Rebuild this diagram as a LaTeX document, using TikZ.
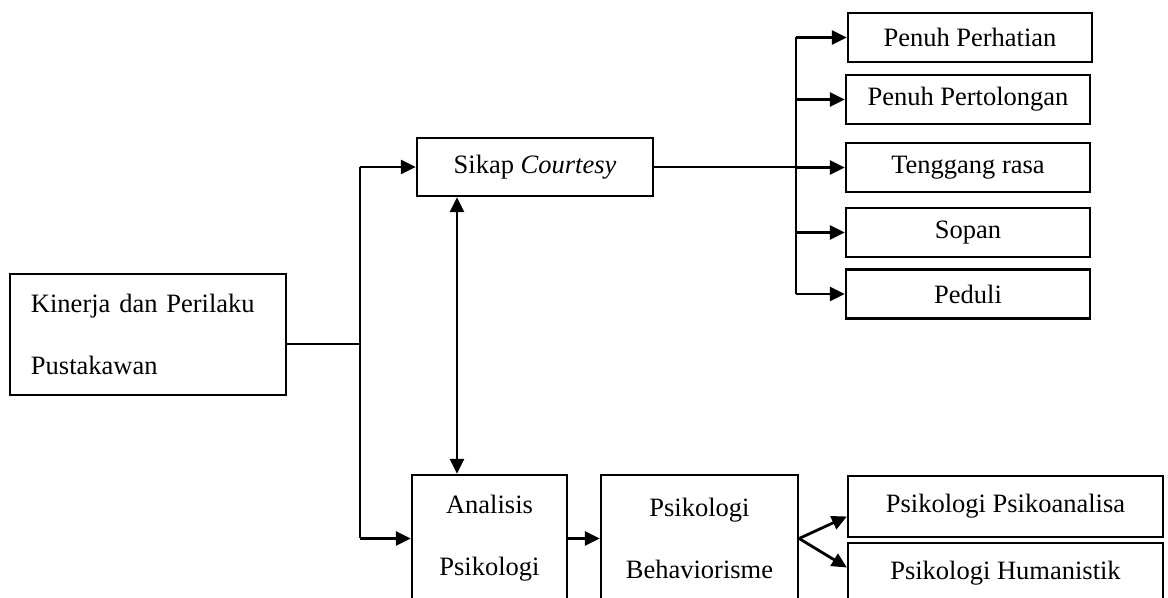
\documentclass[tikz,border=0pt]{standalone}
\usepackage{fontspec}
\setmainfont{Liberation Serif}
\usetikzlibrary{arrows.meta}

\colorlet{edge}{black}
\tikzset{
  box/.style={draw=edge, line width=1.1pt, rectangle, inner sep=0pt, align=center,
    font=\fontsize{13.25}{31}\selectfont},
  wire/.style={line width=1pt, color=edge},
  arr/.style={line width=1.4pt, color=edge, -{Triangle[length=7.5pt,width=7pt]}},
  dblarr/.style={line width=1.4pt, color=edge,
    {Triangle[length=7.5pt,width=7pt]}-{Triangle[length=7.5pt,width=7pt]}},
}

\begin{document}
\begin{tikzpicture}[x=0.5pt, y=-0.5pt]
  \clip (0,0) rectangle (1168,598);
  \draw (148, 334.5)  node[box, minimum width=138pt, minimum height=60.5pt, align=left, text width=117pt] (kinerja) {Kinerja dan Perilaku\\Pustakawan};
  \draw (535, 167)    node[box, minimum width=118pt, minimum height=29pt] (sikap) {Sikap \textit{Courtesy}};
  \draw (970, 37.5)   node[box, minimum width=122pt, minimum height=24.5pt] (perhatian) {Penuh Perhatian};
  \draw (968, 99.5)   node[box, minimum width=122pt, minimum height=24.5pt] (pertolongan) {Penuh Pertolongan};
  \draw (968, 167.5)  node[box, minimum width=122pt, minimum height=24.5pt] (tenggang) {Tenggang rasa};
  \draw (968, 232.5)  node[box, minimum width=122pt, minimum height=24.5pt] (sopan) {Sopan};
  \draw (968, 294)    node[box, minimum width=122pt, minimum height=24.5pt] (peduli) {Peduli};
  \draw (489.5, 538.5) node[box, minimum width=77.5pt, minimum height=63.5pt] (analisis) {Analisis\\Psikologi};
  \draw (699.5, 538.5) node[box, minimum width=98.5pt, minimum height=63.5pt] (behav) {Psikologi\\Behaviorisme};
  \draw (1005.5, 506.5) node[box, minimum width=157.5pt, minimum height=30.5pt] (psiko) {Psikologi Psikoanalisa};
  \draw (1005.5, 573.5) node[box, minimum width=157.5pt, minimum height=30.5pt] (human) {Psikologi Humanistik};
  \coordinate (join) at (360, 344);
  \coordinate (spine) at (796, 0);
  \coordinate (link) at (457, 0);
  % left branch
  \draw[wire] (kinerja.east |- join) -- (join);
  \draw[wire] (join |- sikap.west) -- (join |- analisis.west);
  \draw[arr] (join |- sikap.west) -- (sikap.west);
  \draw[arr] (join |- analisis.west) -- (analisis.west);
  \draw[dblarr] (sikap.south -| link) -- (analisis.north -| link);
  % courtesy branch
  \draw[wire] (sikap.east) -- (sikap.east -| spine);
  \draw[line width=1.4pt, color=edge] (spine |- perhatian.west) -- (spine |- peduli.west);
  \draw[arr] (spine |- perhatian.west) -- (perhatian.west);
  \draw[arr] (spine |- pertolongan.west) -- (pertolongan.west);
  \draw[arr] (spine |- tenggang.west) -- (tenggang.west);
  \draw[arr] (spine |- sopan.west) -- (sopan.west);
  \draw[arr] (spine |- peduli.west) -- (peduli.west);
  % psychology branch
  \draw[arr] (analisis.east) -- (behav.west);
  \draw[arr] (behav.east) -- ([yshift=-5pt]psiko.west);
  \draw[arr] (behav.east) -- ([yshift=3pt]human.west);
\end{tikzpicture}
\end{document}
